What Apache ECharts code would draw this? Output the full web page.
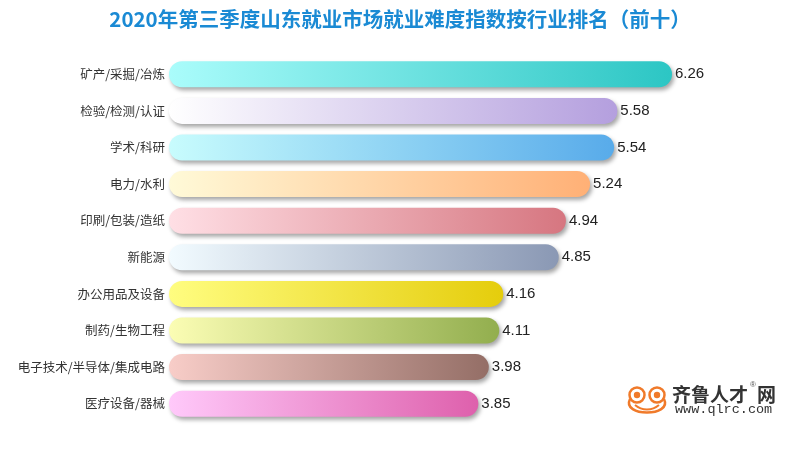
<!DOCTYPE html>
<html><head><meta charset="utf-8">
<script src="https://cdn.jsdelivr.net/npm/echarts@6/dist/echarts.min.js"></script>
<style>html,body{margin:0;padding:0;background:#fff}#c{width:800px;height:450px}</style>
</head><body><div id="c"></div>
<script>
const categories = ['矿产/采掘/冶炼','检验/检测/认证','学术/科研','电力/水利','印刷/包装/造纸','新能源','办公用品及设备','制药/生物工程','电子技术/半导体/集成电路','医疗设备/器械'];
const values = [6.26,5.58,5.54,5.24,4.94,4.85,4.16,4.11,3.98,3.85];
const gradStart = ['#aafcfb','#ffffff','#c8fcfd','#fffad8','#ffdfe5','#f2fbff','#fffd80','#fbfdb4','#f8cdc8','#ffc9fa'];
const gradEnd = ['#2cc6c4','#b49fde','#58abea','#ffb076','#d67680','#8a98b4','#e5cd0c','#92ae4e','#946e66','#de60ac'];

const chart = echarts.init(document.getElementById('c'));
const data = values.map((v,i)=>({value:v,itemStyle:{color:{type:'linear',x:0,y:0,x2:1,y2:0,colorStops:[{offset:0,color:gradStart[i]},{offset:1,color:gradEnd[i]}]}}}));
const og = '#f07a2a';
chart.setOption({
  animation:false,
  title:{text:'2020年第三季度山东就业市场就业难度指数按行业排名（前十）',left:'center',top:4,textStyle:{color:'#1a8ad4',fontSize:20.5,fontWeight:'bold',fontFamily:'Noto Sans CJK SC'}},
  grid:{left:169,right:128,top:56,bottom:28,containLabel:false},
  xAxis:{type:'value',min:0,max:6.26,show:false},
  yAxis:{type:'category',data:categories,inverse:true,axisLine:{show:false},axisTick:{show:false},
    axisLabel:{color:'#333',fontSize:12.5,margin:4,fontFamily:'Noto Sans CJK SC'}},
  series:[{type:'bar',data:data,barWidth:26,
    itemStyle:{borderRadius:13,shadowColor:'rgba(0,0,0,0.35)',shadowBlur:4,shadowOffsetX:2,shadowOffsetY:3},
    label:{show:true,position:'right',distance:3,color:'#222',fontSize:15,fontFamily:'Liberation Sans'}}],
  graphic:[
    {type:'circle',x:637,y:395,shape:{cx:0,cy:0,r:7.5},style:{fill:'#fff',stroke:og,lineWidth:2.5}},
    {type:'circle',x:657,y:395,shape:{cx:0,cy:0,r:7.5},style:{fill:'#fff',stroke:og,lineWidth:2.5}},
    {type:'circle',x:637,y:395,shape:{cx:0,cy:0,r:3.2},style:{fill:og}},
    {type:'circle',x:657,y:395,shape:{cx:0,cy:0,r:3.2},style:{fill:og}},
    {type:'bezierCurve',shape:{x1:630,y1:399,cpx1:621,cpy1:417,cpx2:673,cpy2:417,x2:664,y2:399},style:{fill:null,stroke:og,lineWidth:2.5}},
    {type:'bezierCurve',shape:{x1:635,y1:405,cpx1:642,cpy1:411,cpx2:652,cpy2:411,x2:659,y2:405},style:{fill:null,stroke:og,lineWidth:2}},
    {type:'text',x:672,y:385,style:{text:'齐鲁人才',fill:'#333',font:'bold 19px "Noto Sans CJK SC"'}},
    {type:'text',x:750,y:381,style:{text:'®',fill:'#555',font:'8px sans-serif'}},
    {type:'text',x:757,y:385,style:{text:'网',fill:'#333',font:'bold 19px "Noto Sans CJK SC"'}},
    {type:'text',x:675,y:402,style:{text:'www.qlrc.com',fill:'#333',font:'13.5px "Liberation Mono"'}}
  ]
});
</script></body></html>
